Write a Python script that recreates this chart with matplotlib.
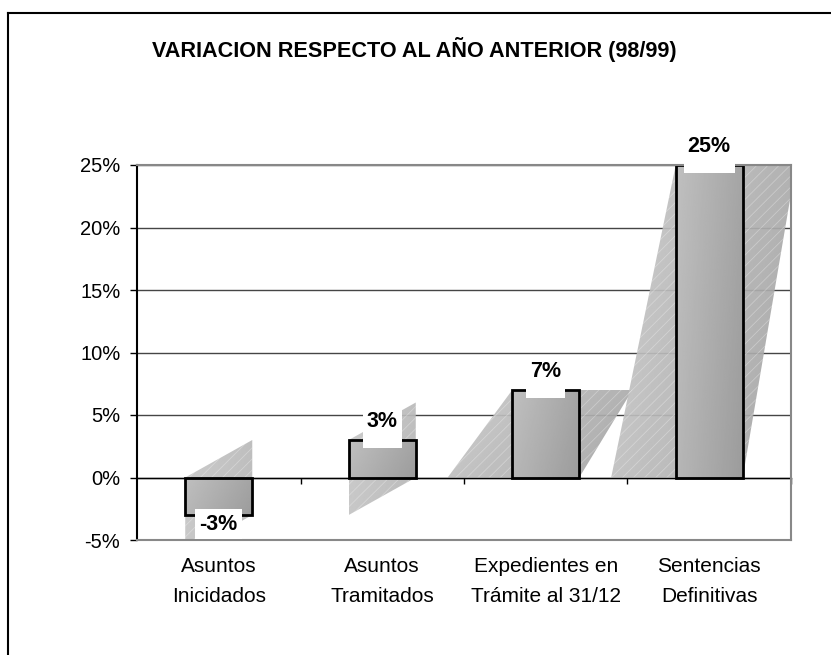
import numpy as np
import matplotlib
matplotlib.use('Agg')
import matplotlib.pyplot as plt
from matplotlib.patches import Rectangle, Polygon
from matplotlib.lines import Line2D
from matplotlib.offsetbox import TextArea, DrawingArea, VPacker, AnnotationBbox

plt.rcParams['font.family'] = ['Liberation Sans', 'DejaVu Sans']
plt.rcParams['hatch.color'] = 'white'
plt.rcParams['hatch.linewidth'] = 0.6

# datos del gráfico
titulo = 'VARIACION RESPECTO AL AÑO ANTERIOR (98/99)'
categorias = ['Asuntos\nInicidados', 'Asuntos\nTramitados',
              'Expedientes en\nTrámite al 31/12', 'Sentencias\nDefinitivas']
variacion = [-3, 3, 7, 25]
yticks = [-5, 0, 5, 10, 15, 20, 25]
tipo_sombra = ['v', 'v', 'h', 'h']  # forma de la "sombra" de cada barra

W, H = 831, 655
fig = plt.figure(figsize=(W / 100, H / 100), dpi=100)
ax = fig.add_axes([137 / W, 1 - 540 / H, 654 / W, 375 / H])

ancho = 0.41


def degradado(patch, claro, oscuro, z):
    # rellena un patch con un degradado diagonal gris (claro arriba-izq.)
    ax.add_patch(patch)
    if isinstance(patch, Rectangle):
        x0, y0 = patch.get_xy()
        x1, y1 = x0 + patch.get_width(), y0 + patch.get_height()
    else:
        xy = np.array(patch.get_xy())
        x0, x1 = xy[:, 0].min(), xy[:, 0].max()
        y0, y1 = xy[:, 1].min(), xy[:, 1].max()
    gx = np.linspace(0, 1, 80)[None, :]
    gy = np.linspace(0, 1, 80)[:, None]
    G = claro - (claro - oscuro) * (0.75 * gx + 0.25 * gy)
    im = ax.imshow(G, extent=(min(x0, x1), max(x0, x1), min(y0, y1), max(y0, y1)),
                   cmap='gray', vmin=0, vmax=1, aspect='auto', origin='upper',
                   interpolation='bilinear', zorder=z)
    im.set_clip_path(patch)
    return im


for i, v in enumerate(variacion):
    c = i + 0.5
    xl, xr = c - ancho / 2, c + ancho / 2
    # sombra
    if tipo_sombra[i] == 'h':
        pts = [(c - 0.6, 0), (xr, 0), (c + 0.53, v), (xl, v)]
        claro, oscuro = 0.79, 0.63
    else:
        a = abs(v)
        lo = min(-v, 2 * v)
        pts = [(xl, lo), (xr, lo + a), (xr, lo + 3 * a), (xl, lo + 2 * a)]
        claro, oscuro = 0.78, 0.71
    sh = Polygon(pts, closed=True, fill=False, edgecolor='none', lw=0)
    im = degradado(sh, claro, oscuro, 1.2)
    im.set_alpha(0.92)
    ax.add_patch(Polygon(pts, closed=True, fill=False, hatch='///',
                         edgecolor='white', lw=0, alpha=0.3, zorder=1.3))

    # barra
    rect = Rectangle((xl, 0), ancho, v, fill=False, edgecolor='none')
    degradado(rect, 0.75, 0.61, 2)
    ax.add_patch(Rectangle((xl, 0), ancho, v, fill=False, edgecolor='black',
                           lw=2, zorder=2.6))

    # etiqueta de valor en caja blanca (con hueco bajo el texto si es positiva)
    ta = TextArea(f'{v}%', textprops=dict(fontsize=15.5, fontweight='bold'))
    if v > 0:
        caja = VPacker(children=[ta, DrawingArea(1, 9)], pad=0, sep=0, align='center')
        dy = 9
    else:
        caja = VPacker(children=[ta], pad=0, sep=0, align='center')
        dy = -6.5
    ab = AnnotationBbox(caja, (c, v), xybox=(0, dy), boxcoords='offset points',
                        frameon=True, pad=0.4,
                        bboxprops=dict(boxstyle='square', fc='white', ec='none'),
                        zorder=6)
    ax.add_artist(ab)

    # nombre de categoría
    ax.annotate(categorias[i], (c, -5), xytext=(0, -12.5), textcoords='offset points',
                ha='center', va='top', fontsize=15, linespacing=1.72,
                annotation_clip=False)

ax.set_xlim(0, 4)
ax.set_ylim(-5, 25)

ax.set_yticks(yticks)
ax.set_yticklabels([f'{t}%' for t in yticks], fontsize=14.5)
ax.tick_params(axis='y', direction='out', length=5, width=1, pad=7, color='black')
ax.set_xticks([1, 2, 3, 4])
ax.set_xticklabels([])
ax.tick_params(axis='x', direction='out', length=4, width=1, color='black')

ax.yaxis.grid(True, color='#454545', lw=1)
ax.set_axisbelow(True)

ax.spines['bottom'].set_position(('data', 0))
ax.spines['bottom'].set_color('black')
ax.spines['bottom'].set_linewidth(1)
ax.spines['bottom'].set_zorder(2.5)
ax.spines['left'].set_color('black')
ax.spines['left'].set_linewidth(1.5)
for s in ['top', 'right']:
    ax.spines[s].set_color('#888888')
    ax.spines[s].set_linewidth(1.5)
    ax.spines[s].set_zorder(3)
ax.axhline(-5, color='#888888', lw=1.5, zorder=3, clip_on=False)

fig.text(414 / W, 1 - 50 / H, titulo, ha='center', va='center',
         fontsize=15.6, fontweight='bold')

# marco exterior
fig.add_artist(Line2D([8 / W, 1], [1 - 13 / H, 1 - 13 / H], color='black', lw=1.5))
fig.add_artist(Line2D([8 / W, 8 / W], [0, 1 - 13 / H], color='black', lw=1.5))

fig.savefig('out.png', dpi=100)
